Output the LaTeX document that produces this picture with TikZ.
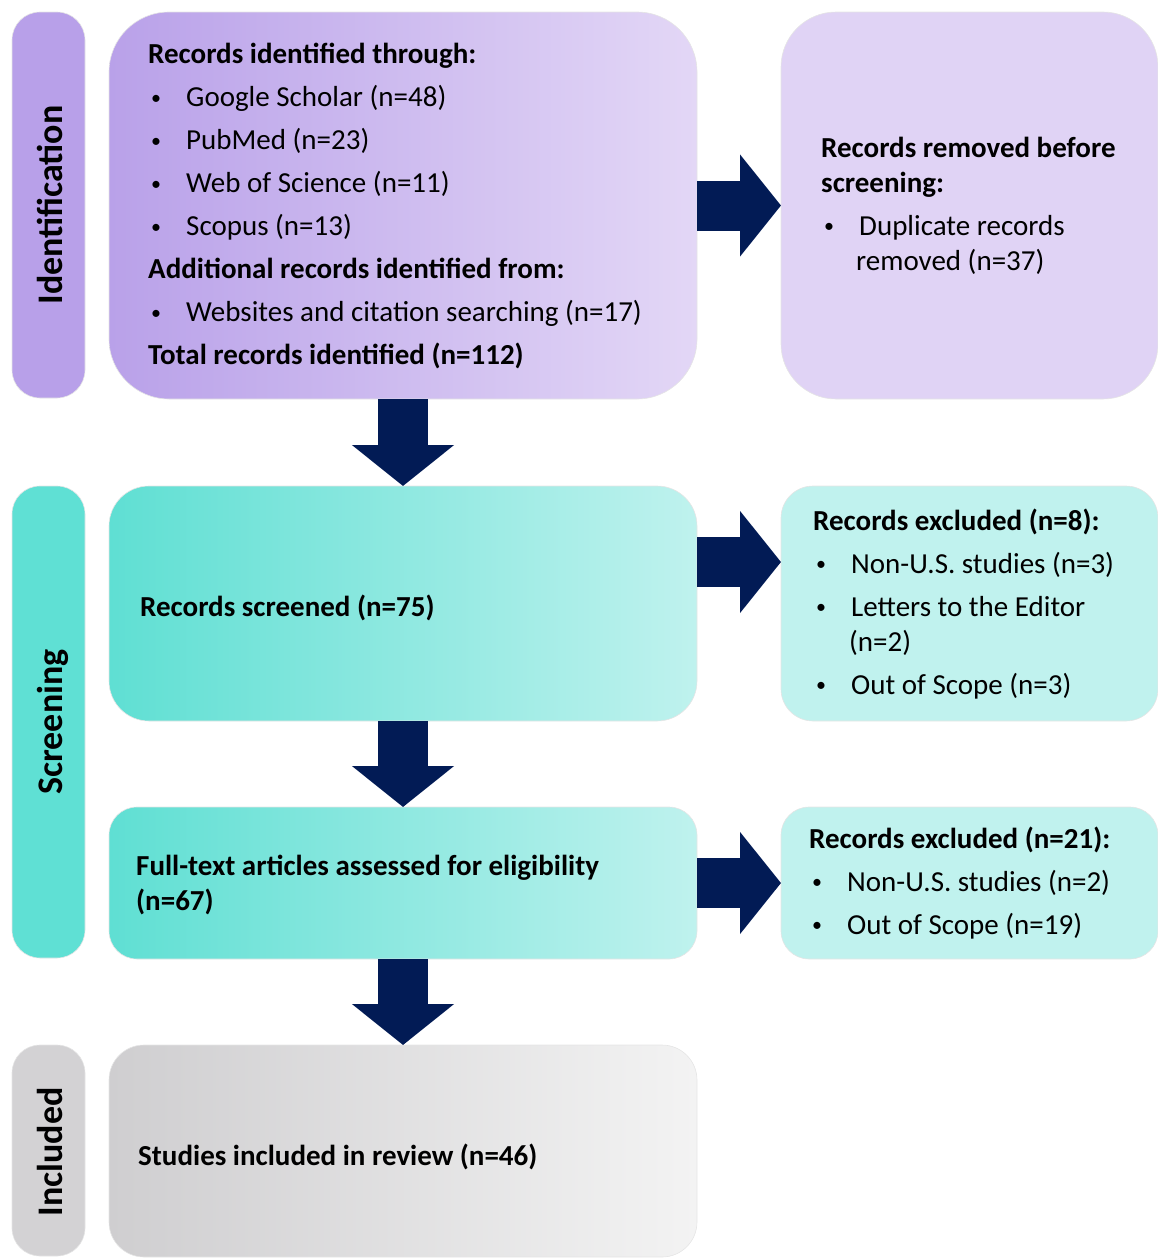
\documentclass[tikz,border=0pt]{standalone}
\usepackage{fontspec}
\setmainfont{Carlito}
\usetikzlibrary{arrows.meta}

\definecolor{navy}{HTML}{021B55}
\definecolor{purplebar}{HTML}{B8A0E9}
\definecolor{purpleL}{HTML}{B9A1E9}
\definecolor{purpleR}{HTML}{E3D7F6}
\definecolor{purplefill}{HTML}{E0D3F5}
\definecolor{tealbar}{HTML}{5FE0D4}
\definecolor{tealL}{HTML}{5FDFD3}
\definecolor{tealR}{HTML}{BFF2EE}
\definecolor{tealfill}{HTML}{C0F2EE}
\definecolor{graybar}{HTML}{D3D2D4}
\definecolor{grayL}{HTML}{CFCED0}
\definecolor{grayR}{HTML}{F3F3F3}

\tikzset{
  box/.style={rectangle, inner sep=0pt, outer sep=0pt, draw=black!10, line width=0.6pt},
  phasebar/.style={box, rounded corners=28pt, minimum width=73pt},
  phaselabel/.style={rotate=90, anchor=base, inner sep=0pt, font=\fontsize{36}{40}\selectfont\bfseries},
  boxtext/.style={anchor=north west, inner sep=0pt, align=left, font=\fontsize{29}{35}\selectfont},
  flow/.style={draw=navy, line width=50pt, line cap=butt, -{Triangle[length=41pt,width=100pt]}},
}

\newcommand{\bul}{\hspace*{3pt}\makebox[35pt][l]{\raisebox{2.3pt}{\fontsize{20}{20}\selectfont\textbullet}}}

\begin{document}
\begin{tikzpicture}[x=1pt, y=-1pt]
  \useasboundingbox (0,0) rectangle (1157,1258);
  % Phase bars
  \node[phasebar, fill=purplebar, minimum height=386pt] (identbar) at (48.5,205) {};
  \node[phasebar, fill=tealbar, minimum height=472pt] (screenbar) at (48.5,722) {};
  \node[phasebar, fill=graybar, minimum height=211pt] (inclbar) at (48.5,1150.5) {};
  \node[phaselabel] (identlabel) at (62,205) {Identification};
  \node[phaselabel] (screenlabel) at (62,722) {Screening};
  \node[phaselabel] (incllabel) at (62,1152) {Included};
  % Main column
  \node[box, rounded corners=60pt, left color=purpleL, right color=purpleR,
        minimum width=588pt, minimum height=387pt] (ident) at (403,205.5) {};
  \node[box, rounded corners=40pt, left color=tealL, right color=tealR,
        minimum width=588pt, minimum height=235pt] (screened) at (403,603.5) {};
  \node[box, rounded corners=28pt, left color=tealL, right color=tealR,
        minimum width=588pt, minimum height=152pt] (fulltext) at (403,883) {};
  \node[box, rounded corners=35pt, left color=grayL, right color=grayR,
        minimum width=588pt, minimum height=212pt] (included) at (403,1151) {};
  % Side column
  \node[box, rounded corners=55pt, fill=purplefill,
        minimum width=377pt, minimum height=387pt] (removed) at (969.5,205.5) {};
  \node[box, rounded corners=32pt, fill=tealfill,
        minimum width=377pt, minimum height=235pt] (excla) at (969.5,603.5) {};
  \node[box, rounded corners=28pt, fill=tealfill,
        minimum width=377pt, minimum height=152pt] (exclb) at (969.5,883) {};
  % Texts
  \node[boxtext] (identtext) at (148,39) {\strut\textbf{Records identified through:}\\[8pt]
    \bul Google Scholar (n=48)\\[8pt]
    \bul PubMed (n=23)\\[8pt]
    \bul Web of Science (n=11)\\[8pt]
    \bul Scopus (n=13)\\[8pt]
    \textbf{Additional records identified from:}\\[8pt]
    \bul Websites and citation searching (n=17)\\[8pt]
    \textbf{Total records identified (n=112)}};
  \node[boxtext] (removedtext) at (821,132.5) {\strut\textbf{Records removed before}\\
    \textbf{screening:}\\[8pt]
    \bul Duplicate records\\
    \hspace*{35pt}removed (n=37)};
  \node[boxtext] (screenedtext) at (140,591.5) {\strut\textbf{Records screened (n=75)}};
  \node[boxtext] (exclatext) at (813,505.5) {\strut\textbf{Records excluded (n=8):}\\[8pt]
    \bul Non-U.S. studies (n=3)\\[8pt]
    \bul Letters to the Editor\\
    \hspace*{36pt}(n=2)\\[8pt]
    \bul Out of Scope (n=3)};
  \node[boxtext] (fulltexttext) at (136,850.5) {\strut\textbf{Full-text articles assessed for eligibility}\\
    \textbf{(n=67)}};
  \node[boxtext] (exclbtext) at (809,823.5) {\strut\textbf{Records excluded (n=21):}\\[8pt]
    \bul Non-U.S. studies (n=2)\\[8pt]
    \bul Out of Scope (n=19)};
  \node[boxtext] (includedtext) at (138,1140.5) {\strut\textbf{Studies included in review (n=46)}};
  % Arrows
  \draw[flow] (ident.south) -- (screened.north);
  \draw[flow] (screened.south) -- (fulltext.north);
  \draw[flow] (fulltext.south) -- (included.north);
  \draw[flow] (ident.east) -- (removed.west);
  \draw[flow] ([yshift=41.5pt]screened.east) -- ([yshift=41.5pt]excla.west);
  \draw[flow] (fulltext.east) -- (exclb.west);
\end{tikzpicture}
\end{document}
